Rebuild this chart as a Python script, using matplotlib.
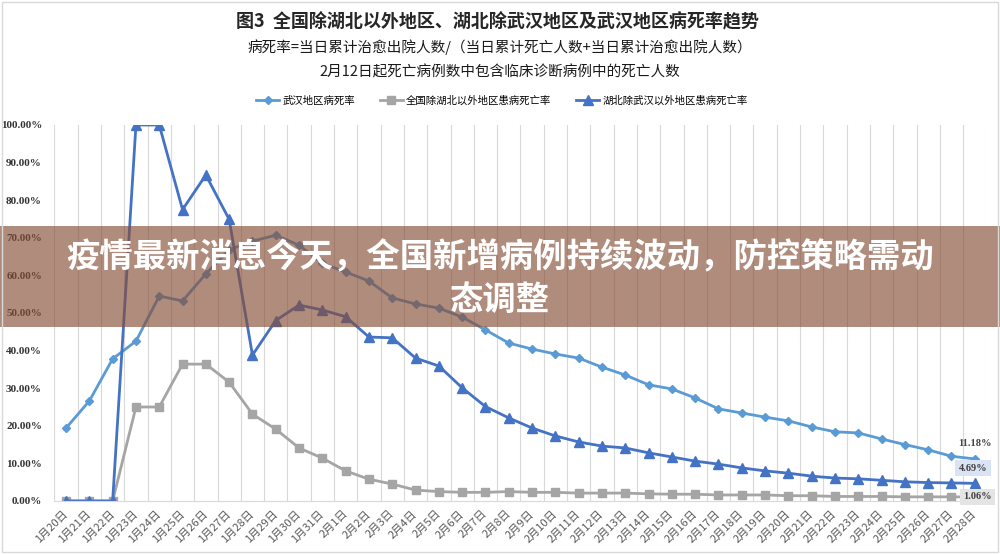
import matplotlib
matplotlib.use("Agg")
import matplotlib.pyplot as plt
import numpy as np
from matplotlib.patches import Rectangle

plt.rcParams["font.family"] = ["Noto Sans CJK SC", "DejaVu Sans"]

# 日期（1月20日 - 2月28日）
dates = [f"1月{d}日" for d in range(20, 32)] + [f"2月{d}日" for d in range(1, 29)]

# 病死率（%），读自原图
wuhan = [19.4, 26.6, 37.8, 42.5, 54.5, 53.2, 60.4, 66.8, 69.1, 70.7, 68.0, 63.2,
         60.9, 58.5, 54.0, 52.4, 51.3, 48.9, 45.5, 42.0, 40.4, 39.1, 38.0, 35.6,
         33.5, 30.9, 29.8, 27.4, 24.5, 23.4, 22.3, 21.3, 19.7, 18.4, 18.1, 16.5,
         15.0, 13.6, 11.9, 11.18]
national_ex_hubei = [0, 0, 0, 25.0, 25.0, 36.4, 36.4, 31.6, 23.1, 19.1, 14.1, 11.4,
                     8.0, 5.8, 4.5, 2.9, 2.5, 2.3, 2.3, 2.5, 2.3, 2.3, 2.1, 2.1,
                     2.1, 1.9, 1.8, 1.8, 1.6, 1.6, 1.6, 1.4, 1.4, 1.2, 1.2, 1.2,
                     1.1, 1.1, 1.1, 1.06]
hubei_ex_wuhan = [0, 0, 0, 100, 100, 77.5, 86.7, 74.9, 38.8, 48.0, 52.1, 50.8,
                  49.0, 43.6, 43.4, 38.0, 35.9, 30.1, 25.1, 22.1, 19.4, 17.3, 15.7, 14.6,
                  14.1, 12.8, 11.7, 10.6, 9.8, 8.8, 8.0, 7.4, 6.6, 6.1, 5.9, 5.5,
                  5.1, 4.9, 4.8, 4.69]

series_names = ["武汉地区病死率", "全国除湖北以外地区患病死亡率", "湖北除武汉以外地区患病死亡率"]
yticks = np.arange(0, 101, 10)

fig = plt.figure(figsize=(10, 5.54), dpi=100)
ax = fig.add_axes([0.0544, 0.0957, 0.932, 0.6787])

x = np.arange(len(dates))
ax.plot(x, wuhan, color="#5B9BD5", lw=2, marker="D", ms=4.5, label=series_names[0])
ax.plot(x, national_ex_hubei, color="#A5A5A5", lw=2, marker="s", ms=6, label=series_names[1])
ax.plot(x, hubei_ex_wuhan, color="#4472C4", lw=2, marker="^", ms=7, label=series_names[2])

ax.set_xlim(-0.5, len(dates) - 0.5)
ax.set_ylim(0, 100)
ax.set_yticks(yticks)
ax.set_yticklabels([f"{v:.2f}%" for v in yticks], family="Liberation Serif",
                   weight="bold", fontsize=8, color="#333333")
ax.set_xticks(x)
ax.set_xticklabels(dates, rotation=45, ha="right", va="center", rotation_mode="anchor",
                   fontsize=8, color="#595959")
ax.tick_params(axis="both", length=0)
ax.tick_params(axis="x", pad=8)
ax.tick_params(axis="y", pad=9)
ax.set_xticks(np.arange(-0.5, len(dates), 1), minor=True)
ax.tick_params(axis="x", which="minor", length=0)
ax.grid(which="minor", axis="x", color="#d9d9d9", lw=0.8)
for side in ["top", "right", "left"]:
    ax.spines[side].set_visible(False)
ax.spines["bottom"].set_color("#d9d9d9")

# 末端数据标签
lab_font = dict(family="Liberation Serif", weight="bold", fontsize=7.5, color="#404040")
ax.annotate(f"{wuhan[-1]:.2f}%", (x[-1], wuhan[-1]), xytext=(0, 11),
            textcoords="offset points", ha="center", va="center", **lab_font)
ax.annotate(f"{hubei_ex_wuhan[-1]:.2f}%", (x[-1], hubei_ex_wuhan[-1]), xytext=(-1, 11),
            textcoords="offset points", ha="center", va="center", **lab_font,
            bbox=dict(boxstyle="square,pad=0.35", fc="#dae3f3", ec="none"))
ax.annotate(f"{national_ex_hubei[-1]:.2f}%", (x[-1], national_ex_hubei[-1]), xytext=(2, 0),
            textcoords="offset points", ha="center", va="center", **lab_font,
            bbox=dict(boxstyle="square,pad=0.35", fc="#e4e4e4", ec="none"))

# 标题
fig.text(0.497, 1 - 22 / 554, "图3  全国除湖北以外地区、湖北除武汉地区及武汉地区病死率趋势",
         ha="center", va="center", fontsize=13, weight="heavy", color="#262626")
fig.text(0.5, 1 - 47 / 554, "病死率=当日累计治愈出院人数/（当日累计死亡人数+当日累计治愈出院人数）",
         ha="center", va="center", fontsize=10.5, weight="medium", color="#1a1a1a")
fig.text(0.5, 1 - 72 / 554, "2月12日起死亡病例数中包含临床诊断病例中的死亡人数",
         ha="center", va="center", fontsize=10.5, weight="medium", color="#1a1a1a")

fig.legend(loc="center", bbox_to_anchor=(0.502, 1 - 101 / 554), ncol=3, frameon=False,
           fontsize=7.5, handlelength=2.2, columnspacing=2.4, handletextpad=0.3)

# 覆盖横幅
fig.patches.append(Rectangle((0, 1 - 327 / 554), 1, 101 / 554, transform=fig.transFigure,
                             fc="#864e37", alpha=0.65, ec="none", zorder=5))
fig.text(0.5, 1 - 258 / 554, "疫情最新消息今天，全国新增病例持续波动，防控策略需动",
         ha="center", va="center", fontsize=24, weight="heavy", color="white", zorder=6)
fig.text(0.5, 1 - 300 / 554, "态调整",
         ha="center", va="center", fontsize=24, weight="heavy", color="white", zorder=6)

fig.patches.append(Rectangle((0.002, 0.003), 0.996, 0.994, transform=fig.transFigure,
                             fill=False, ec="#d9d9d9", lw=1, zorder=7))

fig.savefig("out.png", dpi=100)
plt.close(fig)
